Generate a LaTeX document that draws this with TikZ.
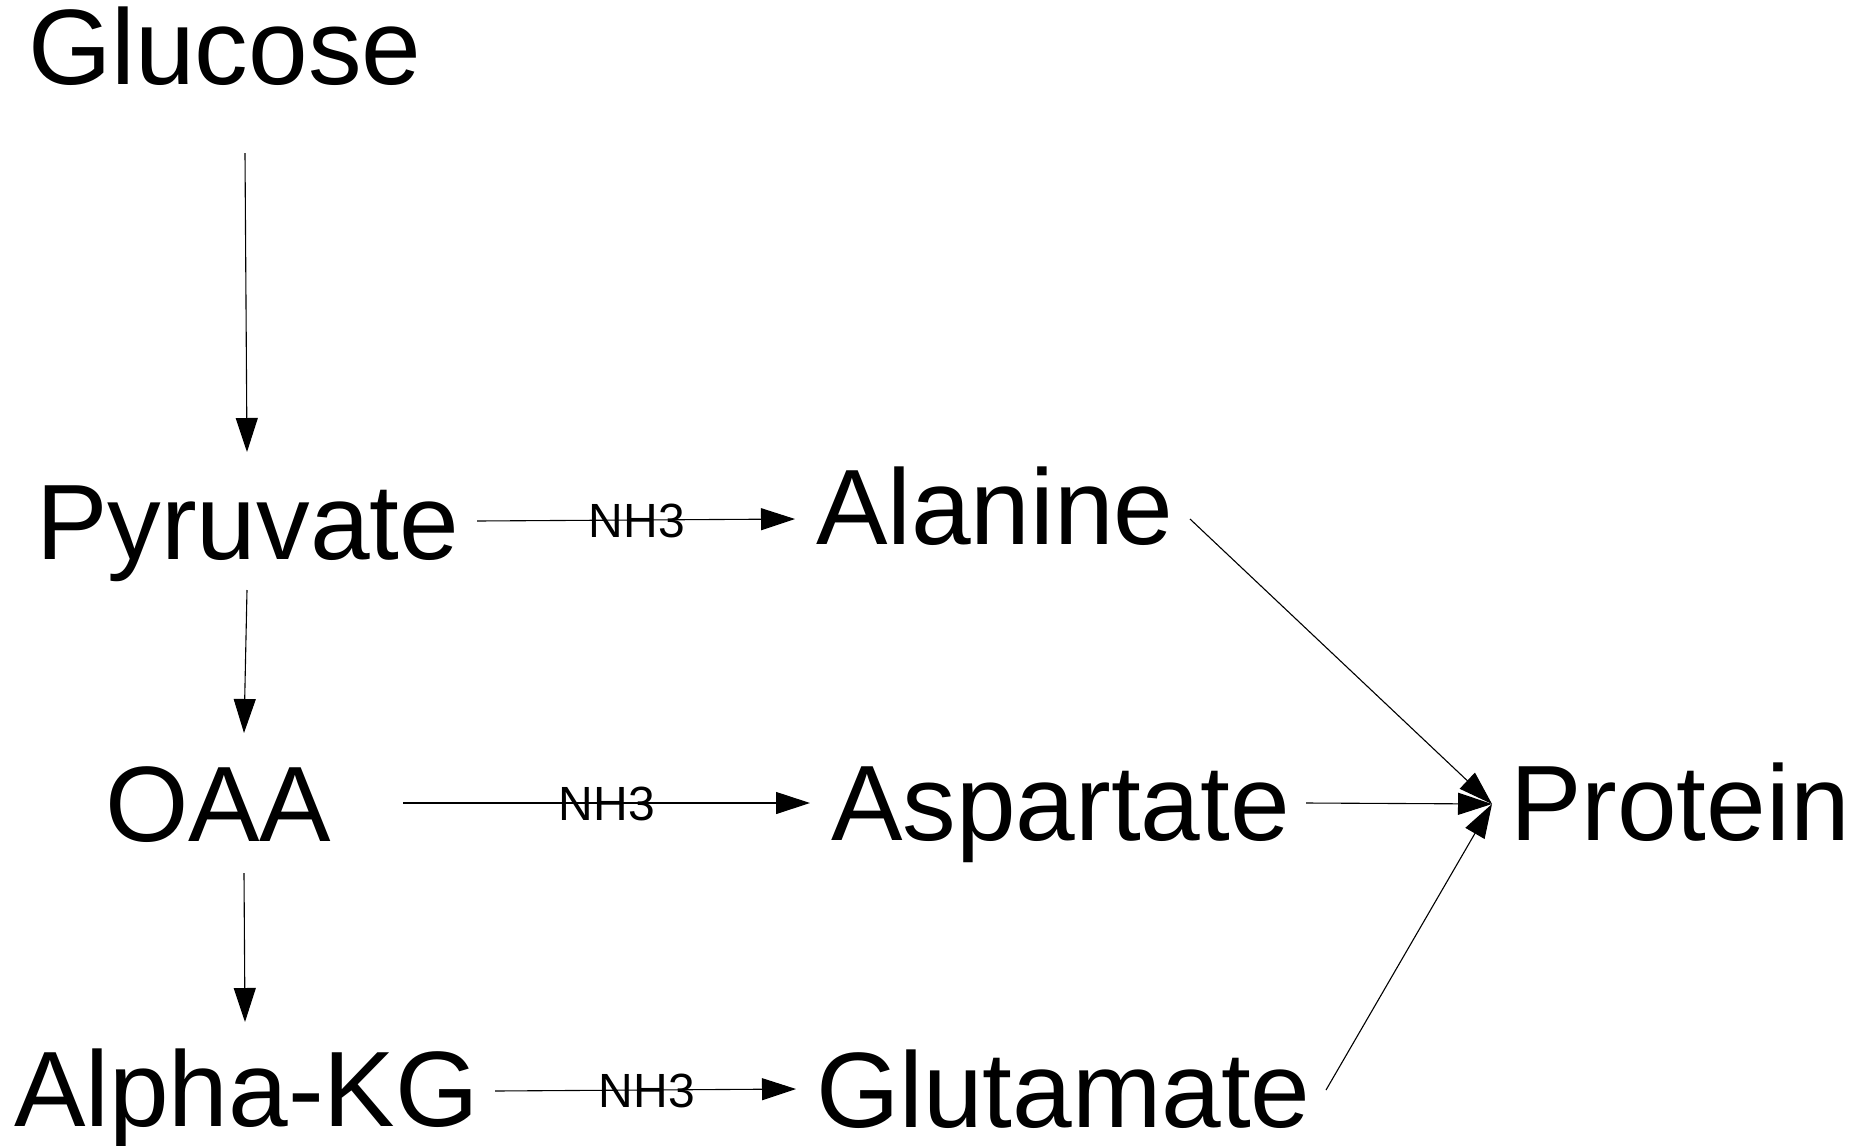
\documentclass[tikz,border=0pt]{standalone}
\usepackage{fontspec}
\setmainfont{Liberation Sans}
\usetikzlibrary{arrows.meta,calc}
\begin{document}
\begin{tikzpicture}[x=0.5pt,y=-0.5pt,
  big/.style={anchor=base west,inner sep=0pt,outer sep=0pt,font=\fontsize{53.6}{60}\selectfont},
  small/.style={anchor=base,inner sep=0pt,outer sep=0pt,font=\fontsize{24}{28}\selectfont},
  conn/.style={line width=0.55pt,-{Triangle[length=17pt,width=11pt]}}]
\useasboundingbox (0,0) rectangle (1869,1146);
\node[big] (glu) at (28,84) {Glucose};
\node[big] (pyr) at (36,559) {Pyruvate};
\node[big] (ala) at (816,544) {Alanine};
\node[big] (oaa) at (105,841) {OAA};
\node[big] (asp) at (831,840) {Aspartate};
\node[big] (pro) at (1510,840) {Protein};
\node[big] (akg) at (14,1126) {Alpha-KG};
\node[big] (glut) at (816,1127) {Glutamate};
\draw[conn] ($(glu.base west)+(217,69)$) -- ($(pyr.base west)+(211,-107)$);
\draw[conn] ($(pyr.base west)+(211,31)$) -- ($(oaa.base west)+(139,-108)$);
\draw[conn] ($(oaa.base west)+(139,32)$) -- ($(akg.base west)+(231,-104)$);
\draw[conn] ($(pyr.base west)+(441,-38)$) -- ($(ala.base west)+(-21,-25)$);
\draw[conn] ($(oaa.base west)+(298,-38)$) -- ($(asp.base west)+(-21,-37)$);
\draw[conn] ($(akg.base west)+(481,-35)$) -- ($(glut.base west)+(-20,-38)$);
\draw[conn] ($(ala.base west)+(374,-25)$) -- ($(pro.base west)+(-18,-36)$);
\draw[conn] ($(asp.base west)+(475,-37)$) -- ($(pro.base west)+(-18,-36)$);
\draw[conn] ($(glut.base west)+(510,-37)$) -- ($(pro.base west)+(-18,-36)$);
\node[small] (n1) at (637,537) {NH3};
\node[small] (n2) at (607,820) {NH3};
\node[small] (n3) at (647,1107) {NH3};
\end{tikzpicture}
\end{document}
